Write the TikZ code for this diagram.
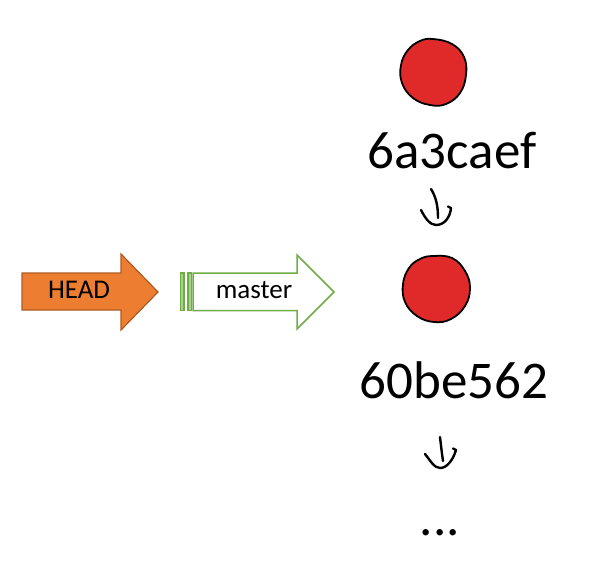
\documentclass[tikz,border=0pt]{standalone}
\usepackage{fontspec}
\setmainfont{Carlito}
\definecolor{headfill}{HTML}{ED7D31}
\definecolor{headline}{HTML}{AE5A21}
\definecolor{mgreen}{HTML}{70AD47}
\definecolor{mgreenlt}{HTML}{A9D18E}
\definecolor{commitred}{HTML}{E02A2A}
\tikzset{
  headarrow/.style={fill=headfill, draw=headline, line width=1.2pt, line join=miter},
  masterarrow/.style={fill=white, draw=mgreen, line width=1.5pt, line join=miter},
  stripe/.style={fill=mgreenlt, draw=mgreen, line width=1.2pt},
  commit/.style={fill=commitred, draw=black, line width=1.8pt},
  lbl/.style={font=\fontsize{27}{30}\selectfont, anchor=base, inner sep=0pt},
  hash/.style={font=\fontsize{53}{60}\selectfont, anchor=base, inner sep=0pt},
  hand/.style={draw=black, line width=2.4pt, line cap=round, line join=round}
}
\begin{document}
\begin{tikzpicture}[x=1pt,y=-1pt]
\useasboundingbox (0,0) rectangle (593,570);
% HEAD arrow
\draw[headarrow] (22,273) -- (121,273) -- (121,254) -- (158,292) -- (121,330) -- (121,310) -- (22,310) -- cycle;
\node[lbl] (head) at (79,298) {HEAD};
% master arrow (striped)
\draw[stripe] (180.5,273) rectangle (184,310.5);
\draw[stripe] (188,273) rectangle (191.5,310.5);
\draw[masterarrow] (193,273) -- (297,273) -- (297,255) -- (334,292) -- (297,329) -- (297,310.5) -- (193,310.5) -- cycle;
\node[lbl] (master) at (254,298) {master};
% commits
\node[circle, minimum size=66pt, inner sep=0pt] (c1) at (433,72) {};
\draw[commit] plot[smooth cycle, tension=0.7] coordinates {
  (433,39) (452,44) (464,57) (466,75) (460,93) (446,104) (430,105) (413,98) (402,83) (401,65) (408,50) (420,41)};
\node[hash] (l1) at (452,168) {6a3caef};
\node[circle, minimum size=68pt, inner sep=0pt] (c2) at (436,288) {};
\draw[commit] plot[smooth cycle, tension=0.7] coordinates {
  (433,256) (452,258) (465,271) (470,288) (465,306) (451,319) (434,322) (417,316) (405,302) (403,284) (409,268) (420,259)};
\node[hash] (l2) at (454,398) {60be562};
\node[hash] (dots) at (440,535) {...};
% hand-drawn arrows
\coordinate (a1s) at (431,189);
\coordinate (a1e) at (438,218);
\coordinate (a1l) at (421,210);
\coordinate (a1b) at (436,225);
\coordinate (a1r) at (451,208);
\draw[hand] (a1s) .. controls (436,197) and (438,206) .. (a1e);
\draw[hand] (a1l) .. controls (425,218) and (430,225) .. (a1b) .. controls (444,225) and (450,218) .. (a1r) -- (448,206.5);
\coordinate (a2s) at (440,437);
\coordinate (a2e) at (443,461);
\coordinate (a2l) at (425,454);
\coordinate (a2b) at (440,468);
\coordinate (a2r) at (456,450);
\draw[hand] (a2s) .. controls (441,446) and (442,454) .. (a2e);
\draw[hand] (a2l) .. controls (430,460) and (434,468) .. (a2b) .. controls (447,468) and (453,460) .. (a2r) -- (453,448.5);
\end{tikzpicture}
\end{document}
